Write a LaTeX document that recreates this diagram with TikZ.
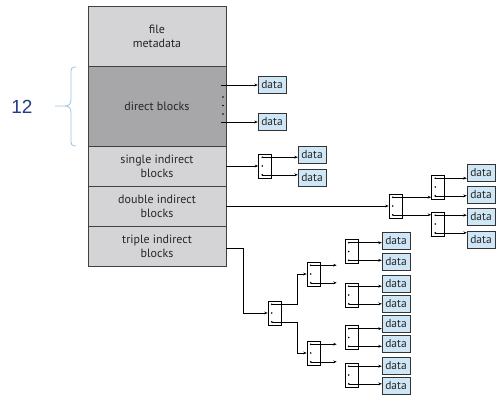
\documentclass[tikz,border=0pt]{standalone}
\usepackage{fontspec}
\setmainfont{PT Sans}
\newfontfamily\numfont{Liberation Sans}
\usetikzlibrary{calc,arrows.meta}
\definecolor{lightg}{HTML}{D4D4D6}
\definecolor{darkg}{HTML}{A7A7A9}
\definecolor{datafill}{HTML}{CFE6F6}
\definecolor{bracec}{HTML}{9CC3E6}
\definecolor{numc}{HTML}{233A85}
\newcommand\pblk[2]{%
  \node[pb] (#1) at (#2) {};
  \coordinate (#1t) at ($(#1.north west)+(4,3.5)$);
  \coordinate (#1m) at ($(#1.west)+(4,0)$);
  \coordinate (#1b) at ($(#1.south west)+(4,-3.5)$);
  \foreach \p in {t,m,b} \fill (#1\p) circle (0.9);
}
\begin{document}
\begin{tikzpicture}[x=1pt,y=-1pt,
  sec/.style={draw=black!75, line width=0.8pt, minimum width=138pt, inner sep=0pt, align=center, font=\fontsize{12}{14}\selectfont, text=black!85},
  databox/.style={draw=black!80, fill=datafill, minimum width=28pt, minimum height=17pt, inner sep=0pt, font=\fontsize{11.5}{12}\selectfont, text=black!85},
  pb/.style={draw=black, fill=white, minimum width=13pt, minimum height=24pt, inner sep=0pt, line width=0.6pt},
  arr/.style={-{Stealth[length=3.5pt,width=2.8pt]}, line width=0.6pt}]
\useasboundingbox (0,0) rectangle (504,402);
% inode
\node[sec, fill=lightg, minimum height=60pt] (meta) at (157,36) {file\\metadata};
\node[sec, fill=darkg, minimum height=80pt] (direct) at (157,106) {direct blocks};
\node[sec, fill=lightg, minimum height=40pt] (single) at (157,166) {single indirect\\blocks};
\node[sec, fill=lightg, minimum height=40pt] (double) at (157,206) {double indirect\\blocks};
\node[sec, fill=lightg, minimum height=40pt] (triple) at (157,246) {triple indirect\\blocks};
% brace and count
\draw[bracec, line width=0.8pt] (76,67) .. controls (71,67) and (71,69) .. (71,74) -- (71,99) .. controls (71,104) and (69,106) .. (65,106) -- (55,106);
\draw[bracec, line width=0.8pt] (76,146) .. controls (71,146) and (71,144) .. (71,139) -- (71,113) .. controls (71,108) and (69,106) .. (65,106);
\node[text=numc, font=\numfont\fontsize{19}{20}\selectfont] (n12) at (22,107) {12};
% direct
\coordinate (dir1) at (221,85);
\coordinate (dir2) at (221,122);
\node[databox] (dd1) at (272,85) {data};
\node[databox] (dd2) at (272,122) {data};
\draw[arr] (dir1) -- (dd1.west);
\draw[arr] (dir2) -- (dd2.west);
\foreach \yy in {97,105.5,114} \fill (223,\yy) circle (0.9);
% single
\pblk{S}{265,166}
\node[databox] (sd1) at (312,155) {data};
\node[databox] (sd2) at (312,178) {data};
\draw[arr] (single.east) -- (S.west);
\draw[arr] (St) -- (St -| sd1.west);
\draw[arr] (Sb) -- (Sb -| sd2.west);
% double
\pblk{D}{395.5,206}
\pblk{DX}{438,187}
\pblk{DY}{438,224}
\draw[arr] (double.east) -- (D.west);
\draw[arr] (Dt) -- (Dt -| DX.west);
\draw[arr] (Db) -- (Db -| DY.west);
\node[databox] (da1) at (481,172.5) {data};
\node[databox] (da2) at (481,194.5) {data};
\node[databox] (db1) at (481,217) {data};
\node[databox] (db2) at (481,239.5) {data};
\draw[arr] (DXt) -- (DXt -| da1.west);
\draw[arr] (DXb) -- (DXb -| da2.west);
\draw[arr] (DYt) -- (DYt -| db1.west);
\draw[arr] (DYb) -- (DYb -| db2.west);
% triple
\pblk{T}{274.5,313}
\pblk{TX}{313.5,274}
\pblk{TY}{313.5,353}
\draw[arr] ($(triple.east)+(0,2)$) -- ++(17,0) |- (T.west);
\draw[arr] (Tt) -| ([xshift=-9pt]TX.west) -- (TX.west);
\draw[arr] (Tb) -| ([xshift=-9pt]TY.west) -- (TY.west);
\draw[arr] (TXt) -- ++(26,0);
\draw[arr] (TXb) -- ++(26,0);
\draw[arr] (TYt) -- ++(26,0);
\draw[arr] (TYb) -- ++(26,0);
\pblk{Q1}{351.5,251.5}
\pblk{Q2}{351.5,295}
\pblk{Q3}{351.5,337.5}
\pblk{Q4}{351.5,375}
\node[databox] (q11) at (396,240.5) {data};
\node[databox] (q12) at (396,261.5) {data};
\node[databox] (q21) at (396,283.5) {data};
\node[databox] (q22) at (396,303.5) {data};
\node[databox] (q31) at (396,324) {data};
\node[databox] (q32) at (396,344) {data};
\node[databox] (q41) at (396,365.5) {data};
\node[databox] (q42) at (396,385.5) {data};
\draw[arr] (Q1t) -- (Q1t -| q11.west);
\draw[arr] (Q1b) -- (Q1b -| q12.west);
\draw[arr] (Q2t) -- (Q2t -| q21.west);
\draw[arr] (Q2b) -- (Q2b -| q22.west);
\draw[arr] (Q3t) -- (Q3t -| q31.west);
\draw[arr] (Q3b) -- (Q3b -| q32.west);
\draw[arr] (Q4t) -- (Q4t -| q41.west);
\draw[arr] (Q4b) -- (Q4b -| q42.west);
\end{tikzpicture}
\end{document}
